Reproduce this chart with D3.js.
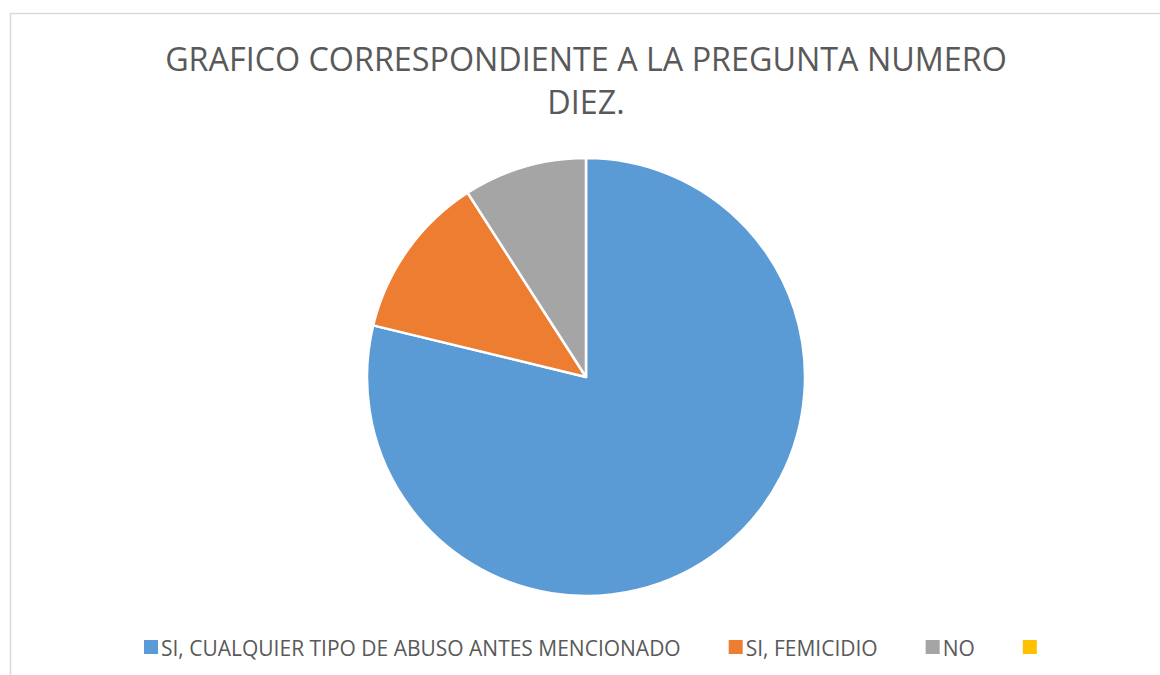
<!DOCTYPE html>
<html>
<head>
<meta charset="utf-8">
<script src="https://cdn.jsdelivr.net/npm/d3@7"></script>
<style>
  body { margin: 0; background: #fff; }
  svg text { font-family: "Open Sans", "Liberation Sans", sans-serif; fill: #595959; }
</style>
</head>
<body>
<div class="canvas-graph"></div>
<script>
// datos
const categories = ['SI, CUALQUIER TIPO DE ABUSO ANTES MENCIONADO', 'SI, FEMICIDIO', 'NO', ''];
const values = [26, 4, 3, 0];
const colors = ['#5b9bd5', '#ed7d31', '#a5a5a5', '#ffc000'];
const titleLines = ['GRAFICO CORRESPONDIENTE A LA PREGUNTA NUMERO', 'DIEZ.'];

const dims = { width: 1160, height: 675, radius: 219 };
const cent = { x: 586, y: 377 };

const svg = d3.select('.canvas-graph')
    .append('svg')
    .attr('width', dims.width)
    .attr('height', dims.height);

// marco del grafico (recortado a la derecha y abajo)
svg.append('path')
    .attr('d', `M10.5,${dims.height} V13.5 H${dims.width}`)
    .attr('fill', 'none')
    .attr('stroke', '#d9d9d9')
    .attr('stroke-width', 1.5);

// titulo
const title = svg.append('g');
title.selectAll('text')
    .data(titleLines)
    .enter()
    .append('text')
    .attr('x', cent.x)
    .attr('y', (d, i) => 71 + i * 43)
    .attr('text-anchor', 'middle')
    .attr('font-size', 34)
    .text(d => d);
// ajustar el tamaño para que la primera linea mida como en la imagen
const t0 = title.select('text').node().getComputedTextLength();
title.selectAll('text').attr('font-size', 34 * 842 / t0);

const graph = svg.append('g')
    .attr('transform', `translate(${cent.x}, ${cent.y})`);

const pie = d3.pie()
    .sort(null)
    .value(d => d.value);

const arcPath = d3.arc()
    .outerRadius(dims.radius)
    .innerRadius(0);

const data = categories.map((c, i) => ({ type: c, value: values[i] }));
const color = d3.scaleOrdinal().domain(categories).range(colors);

graph.selectAll('path')
    .data(pie(data).filter(d => d.value > 0))
    .enter()
    .append('path')
    .attr('d', arcPath)
    .attr('stroke', '#fff')
    .attr('stroke-width', 2.5)
    .attr('stroke-linejoin', 'round')
    .attr('fill', d => color(d.data.type));

// leyenda
const legendGroup = svg.append('g');
const items = legendGroup.selectAll('g')
    .data(data)
    .enter()
    .append('g');
items.append('rect')
    .attr('width', 14)
    .attr('height', 14)
    .attr('y', 640)
    .attr('fill', d => color(d.type));
items.append('text')
    .attr('x', 17)
    .attr('y', 656)
    .attr('font-size', 20)
    .text(d => d.type);

const l0 = items.select('text').node().getComputedTextLength();
const lsize = 20 * 520 / l0;
items.selectAll('text').attr('font-size', lsize);

let x = 144;
items.each(function() {
    const g = d3.select(this);
    g.attr('transform', `translate(${x}, 0)`);
    const w = g.select('text').node().getComputedTextLength();
    x += 17 + w + 48;
});
</script>
</body>
</html>
